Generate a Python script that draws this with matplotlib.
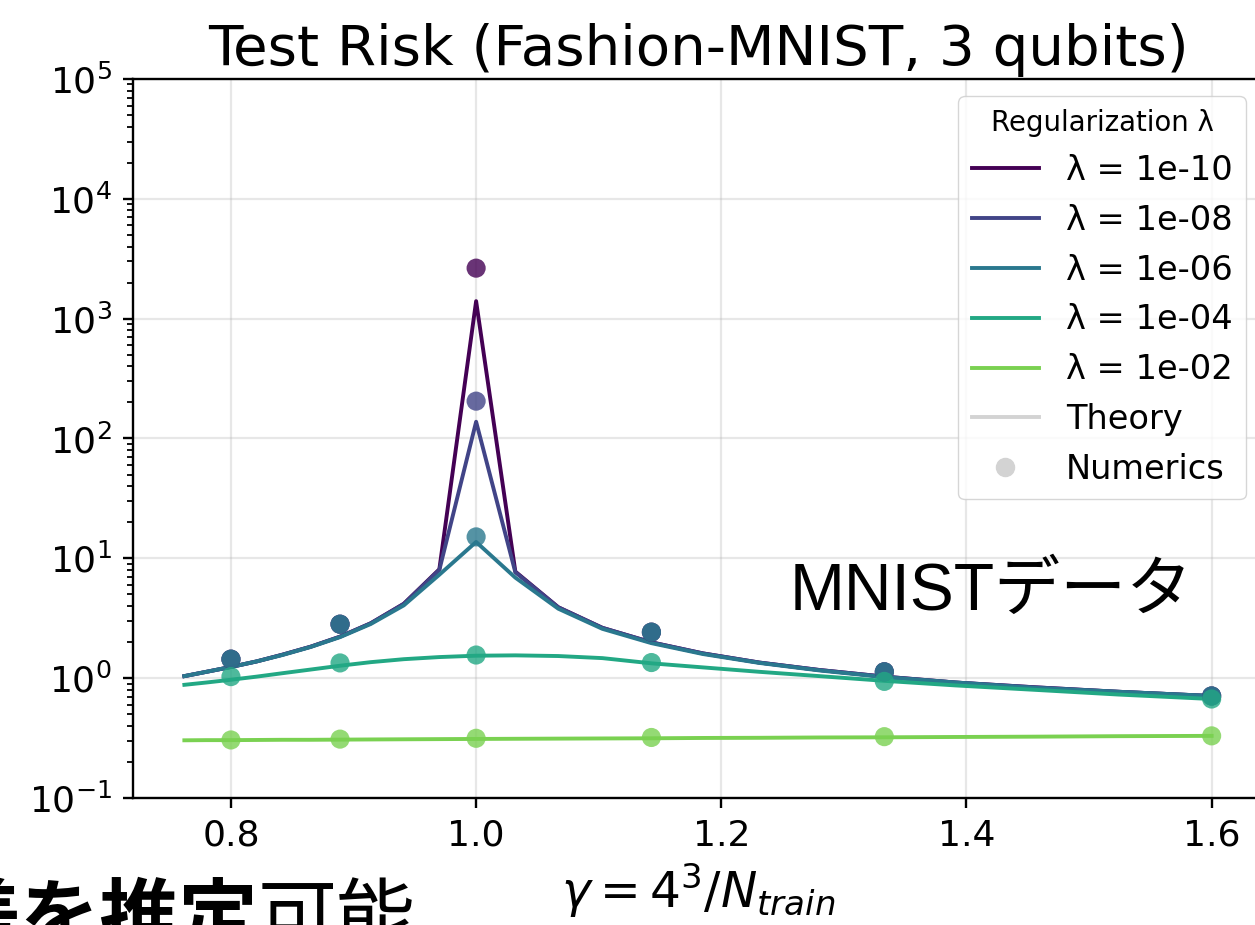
import matplotlib
matplotlib.use('Agg')
import matplotlib.pyplot as plt
from matplotlib.lines import Line2D
import numpy as np

# ---------------- data ----------------
lambdas = ['1e-10', '1e-08', '1e-06', '1e-04', '1e-02']

gamma_theory = [0.762, 0.780, 0.800, 0.821, 0.842, 0.865, 0.889, 0.914, 0.941, 0.970,
                1.000, 1.032, 1.067, 1.103, 1.143, 1.185, 1.231, 1.280, 1.333, 1.391,
                1.455, 1.524, 1.600]

theory_1e10 = [1.04, 1.13, 1.24, 1.38, 1.57, 1.83, 2.22, 2.87, 4.18, 8.1,
               1400, 7.75, 3.91, 2.63, 1.99, 1.61, 1.35, 1.17, 1.03, 0.92,
               0.84, 0.77, 0.71]
theory_1e08 = [1.04, 1.13, 1.24, 1.38, 1.57, 1.83, 2.22, 2.87, 4.16, 8.0,
               138, 7.65, 3.90, 2.63, 1.99, 1.61, 1.35, 1.17, 1.03, 0.92,
               0.84, 0.77, 0.71]
theory_1e06 = [1.04, 1.13, 1.24, 1.38, 1.56, 1.82, 2.20, 2.83, 4.05, 7.3,
               13.7, 6.9, 3.80, 2.58, 1.96, 1.59, 1.34, 1.16, 1.02, 0.92,
               0.83, 0.77, 0.71]
theory_1e04 = [0.88, 0.92, 0.97, 1.03, 1.10, 1.18, 1.27, 1.36, 1.44, 1.50,
               1.54, 1.55, 1.53, 1.47, 1.33, 1.23, 1.13, 1.04, 0.95, 0.87,
               0.80, 0.73, 0.67]
theory_1e02 = [0.303, 0.304, 0.304, 0.305, 0.306, 0.306, 0.307, 0.308, 0.309, 0.310,
               0.311, 0.312, 0.313, 0.314, 0.315, 0.317, 0.318, 0.320, 0.321, 0.323,
               0.325, 0.328, 0.330]

gamma_num = [0.800, 0.889, 1.000, 1.143, 1.333, 1.600]
num_1e10 = [1.44, 2.82, 2640, 2.42, 1.13, 0.71]
num_1e08 = [1.44, 2.82, 205, 2.42, 1.13, 0.71]
num_1e06 = [1.44, 2.82, 15.1, 2.42, 1.13, 0.71]
num_1e04 = [1.03, 1.34, 1.56, 1.35, 0.94, 0.67]
num_1e02 = [0.305, 0.31, 0.315, 0.32, 0.325, 0.33]

theories = [theory_1e10, theory_1e08, theory_1e06, theory_1e04, theory_1e02]
numerics = [num_1e10, num_1e08, num_1e06, num_1e04, num_1e02]

xticks = [0.8, 1.0, 1.2, 1.4, 1.6]

# ---------------- figure ----------------
W, H = 1255, 925
fig = plt.figure(figsize=(W / 100, H / 100), dpi=100)
ax = fig.add_axes([133 / W, (H - 798) / H, 1130 / W, 719 / H])

colors = plt.cm.viridis(np.linspace(0, 0.8, 5))

handles = []
for lam, th, nm, c in zip(lambdas, theories, numerics, colors):
    ln, = ax.plot(gamma_theory, th, color=c, lw=2.8, label=f'λ = {lam}', zorder=2)
    ax.scatter(gamma_num, nm, color=c, s=190, alpha=0.8, edgecolors='none', zorder=3)
    handles.append(ln)

handles.append(Line2D([], [], color='lightgray', lw=2.8, label='Theory'))
handles.append(Line2D([], [], color='lightgray', marker='o', ls='', ms=13, label='Numerics'))

ax.set_yscale('log')
ax.set_ylim(1e-1, 1e5)
ax.set_xticks(xticks)
ax.grid(True, which='major', alpha=0.3, lw=1.6)

for sp in ax.spines.values():
    sp.set_linewidth(1.7)
ax.tick_params(axis='both', which='major', labelsize=26, length=7.5, width=1.7, pad=7.5)
ax.tick_params(axis='y', which='minor', length=4.4, width=1.3)

ax.set_title('Test Risk (Fashion-MNIST, 3 qubits)', fontsize=40.5, pad=10)
ax.set_xlabel(r'$\gamma = 4^3/N_{train}$', fontsize=35, labelpad=6)

leg = ax.legend(handles=handles, title='Regularization λ', fontsize=24.2,
                title_fontsize=19.8, loc='upper right')

# slide overlay texts
fig.text(790 / W, 1 - 610 / H, 'MNISTデータ', fontsize=47.5,
         family=['Liberation Sans', 'Noto Sans CJK JP'], va='baseline')
fig.text(258 / W, (H - 944) / H, '差を推定', fontsize=57, fontweight='bold',
         family=['Noto Sans CJK JP'], ha='right', va='baseline')
fig.text(258 / W, (H - 944) / H, '可能', fontsize=57,
         family=['Noto Sans CJK JP'], ha='left', va='baseline')

fig.savefig('out.png', dpi=100)
